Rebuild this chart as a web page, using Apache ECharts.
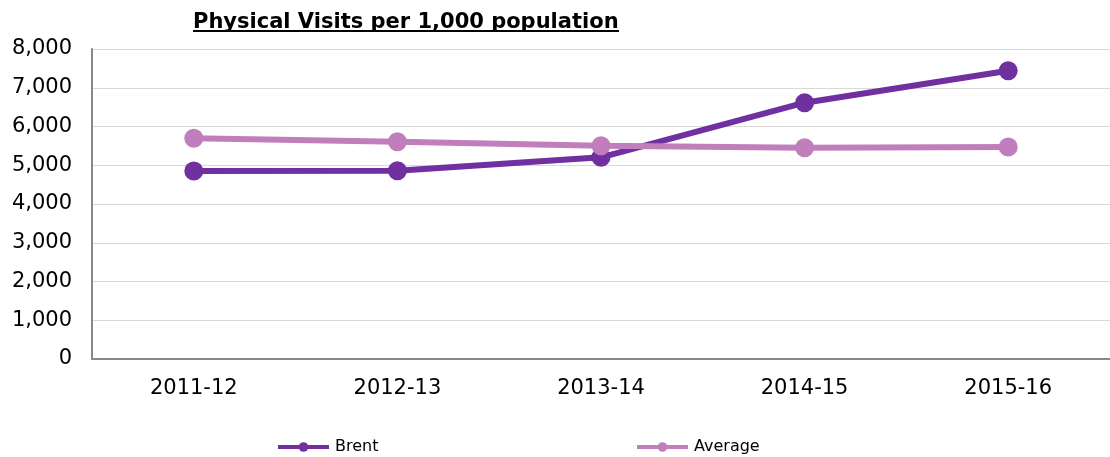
<!DOCTYPE html>
<html><head><meta charset="utf-8">
<script src="https://cdn.jsdelivr.net/npm/echarts@6/dist/echarts.min.js"></script>
<style>html,body{margin:0;padding:0;background:#fff}#c{width:1110px;height:457px}</style>
</head><body><div id="c"></div>
<script>
const categories = ['2011-12','2012-13','2013-14','2014-15','2015-16'];
const brent = [4852, 4860, 5205, 6614, 7440];
const average = [5695, 5608, 5505, 5450, 5470];
const yTicks = [0,1000,2000,3000,4000,5000,6000,7000,8000];

const chart = echarts.init(document.getElementById('c'));
const font = '"DejaVu Sans", Verdana, sans-serif';
chart.setOption({
  animation:false,
  title:{text:'Physical Visits per 1,000 population', left:188, top:7,
    textStyle:{fontFamily:font, fontSize:21, fontWeight:'bold', color:'#000'}},
  graphic:[{type:'line', shape:{x1:193, y1:31, x2:619, y2:31}, style:{stroke:'#000', lineWidth:2}}],
  legend:[
    {data:['Brent'], left:271, top:434, itemWidth:51, itemHeight:12, itemGap:5,
     lineStyle:{width:4},
     textStyle:{fontFamily:font, fontSize:16, color:'#000', padding:[0,0,0,1]}},
    {data:['Average'], left:630, top:434, itemWidth:51, itemHeight:12,
     lineStyle:{width:4},
     textStyle:{fontFamily:font, fontSize:16, color:'#000', padding:[0,0,0,1]}}
  ],
  grid:{left:92, right:-8, top:49, bottom:98, containLabel:false},
  xAxis:{type:'category', data:categories, boundaryGap:true,
    axisLine:{lineStyle:{color:'#878787', width:2}}, axisTick:{show:false},
    axisLabel:{fontFamily:font, fontSize:21, color:'#000', margin:19}},
  yAxis:{type:'value', min:0, max:8000, interval:1000,
    axisLine:{show:true, lineStyle:{color:'#878787', width:2}}, axisTick:{show:false},
    splitLine:{lineStyle:{color:'#d9d9d9', width:1}},
    axisLabel:{fontFamily:font, fontSize:21, color:'#000', margin:20,
      formatter:v=>yTicks.includes(v)?v.toLocaleString('en-US'):''}},
  series:[
    {name:'Brent', type:'line', data:brent, symbol:'circle', symbolSize:19,
     lineStyle:{width:6, color:'#7030A0'}, itemStyle:{color:'#7030A0'}, z:2},
    {name:'Average', type:'line', data:average, symbol:'circle', symbolSize:19,
     lineStyle:{width:6, color:'#C07FBC'}, itemStyle:{color:'#C07FBC'}, z:3}
  ]
});
</script></body></html>
